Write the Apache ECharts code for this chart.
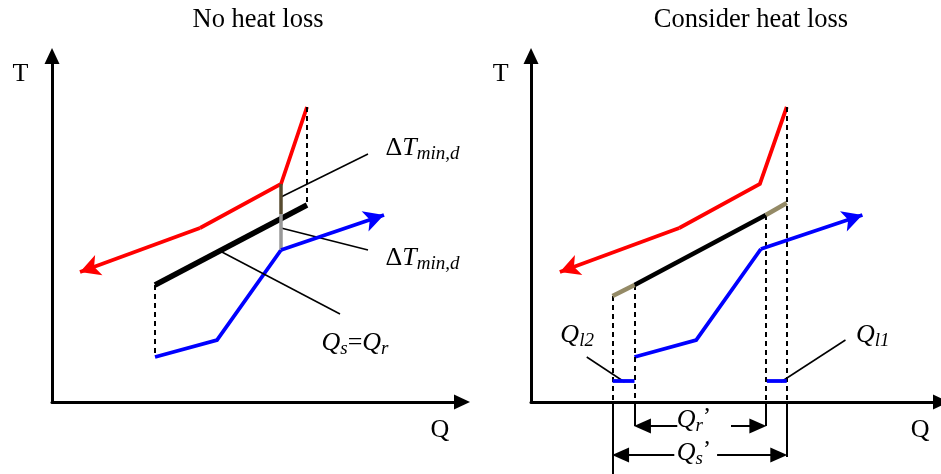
<!DOCTYPE html>
<html><head><meta charset="utf-8">
<script src="https://cdn.jsdelivr.net/npm/echarts@6/dist/echarts.min.js"></script>
<style>html,body{margin:0;padding:0;background:#fff}#c{width:941px;height:474px}</style>
</head><body><div id="c"></div>
<script>
// ---- Left panel: "No heat loss" (Q, T in diagram units) ----
const redL = [[255,295],[229,218],[148,174]];
const redArrowL = [[148,174],[28,130]];
const blueL = [[103,45],[165,62],[229,152]];
const blueArrowL = [[229,152],[332,187]];
const blackL = [[103,117],[255,197]];
const dashL = [[[103,117],[103,45]], [[255,295],[255,197]]];
const deltaDarkL = [[[229,218],[229,188]]];
const deltaGrayL = [[[229,188],[229,152]]];
const leadersL = [[[229,205],[316,248]], [[229,174],[316,152]], [[168,151],[288,88]]];

// ---- Right panel: "Consider heat loss" ----
const redR = [[257,295],[230,218],[149,174]];
const redArrowR = [[149,174],[29,130]];
const blueR = [[104,45],[166,62],[231,153]];
const blueArrowR = [[231,153],[333,187]];
const blackR = [[104,117],[236,187]];
const oliveR = [[[82,106],[104,117]], [[236,187],[257,199]]];
const lossR = [[[82,21],[104,21]], [[237,21],[257,21]]];
const dashR = [[[82,106],[82,0]], [[104,117],[104,0]], [[236,187],[236,0]], [[257,295],[257,0]]];
const extR = [[[82,0],[82,-72]], [[104,0],[104,-24]], [[236,0],[236,-24]], [[257,0],[257,-55]]];
const dimArrowsR = [[[147,-24],[112,-24]], [[201,-24],[228,-24]], [[144,-53],[90,-53]], [[187,-53],[249,-53]]];
const leadersR = [[[56,45],[94,20]], [[316,62],[251,20]]];
const yAxisR = [[[0,0],[0,346]]];

// ---- Text labels (anchor positions) ----
const titles = ['No heat loss', 'Consider heat loss'];
const labelsL = [
  {pos:[333,254], text:'{a|Δ}{i|T}{s|min,d}'},
  {pos:[333,144], text:'{a|Δ}{i|T}{s|min,d}'},
  {pos:[269,59], text:'{i|Q}{s|s}{a|=}{i|Q}{s|r}'},
  {pos:[-40,328], text:'{a|T}'},
  {pos:[378,-28], text:'{a|Q}'}
];
const labelsR = [
  {pos:[29,67], text:'{i|Q}{s|l2}'},
  {pos:[326,67], text:'{i|Q}{s|l1}'},
  {pos:[146,-18], text:'{i|Q}{s|r}{p|’}'},
  {pos:[146,-51], text:'{i|Q}{s|s}{p|’}'},
  {pos:[-39,328], text:'{a|T}'},
  {pos:[381,-28], text:'{a|Q}'}
];

const FONT = 'Liberation Serif';
const rich = {
  a:{fontFamily:FONT, fontSize:26, color:'#000', lineHeight:30},
  i:{fontFamily:FONT, fontSize:26, fontStyle:'italic', color:'#000', lineHeight:30},
  s:{fontFamily:FONT, fontSize:19, fontStyle:'italic', color:'#000', lineHeight:18, verticalAlign:'bottom'},
  p:{fontFamily:FONT, fontSize:24, color:'#000', lineHeight:18, verticalAlign:'top'}
};

function poly(g, data, color, width) {
  return {type:'line', xAxisIndex:g, yAxisIndex:g, data:data, symbol:'none', clip:false, silent:true,
    lineStyle:{color:color, width:width, cap:'butt', join:'miter'}, z:3};
}
function segs(g, list, color, width, type, symbol, symSize, z) {
  const size = symSize || [14,16];
  return {type:'line', xAxisIndex:g, yAxisIndex:g, data:[], clip:false, silent:true, z:z||2,
    markLine:{silent:true, animation:false, symbol:symbol||['none','none'], symbolSize:size,
      label:{show:false}, emphasis:{disabled:true},
      lineStyle:{color:color, width:width, type:type||'solid', cap:'butt', opacity:1},
      data:list.map(s=>[{coord:s[0]},{coord:s[1]}])}};
}
function texts(g, list) {
  return {type:'scatter', xAxisIndex:g, yAxisIndex:g, clip:false, silent:true, symbolSize:1,
    itemStyle:{color:'rgba(255,255,255,0)'},
    label:{show:true, position:'right', distance:0, color:'#000', opacity:1, rich:rich},
    data:list.map(l=>({value:l.pos, label:{formatter:l.text}})), z:5};
}
function xAx(g, max) {
  return {gridIndex:g, type:'value', min:0, max:max,
    axisLine:{show:true, onZero:true, symbol:['none','triangle'], symbolSize:[15,16], lineStyle:{color:'#000', width:3}},
    axisTick:{show:false}, axisLabel:{show:false}, splitLine:{show:false}};
}
function yAx(g, min, max, showLine) {
  return {gridIndex:g, type:'value', min:min, max:max,
    axisLine:{show:showLine, onZero:false, symbol:['none','triangle'], symbolSize:[15,16], lineStyle:{color:'#000', width:3}},
    axisTick:{show:false}, axisLabel:{show:false}, splitLine:{show:false}};
}

const chart = echarts.init(document.getElementById('c'));
chart.setOption({
  animation:false,
  backgroundColor:'#fff',
  title:[
    {text:titles[0], left:253, top:2, textAlign:'center', textStyle:{fontFamily:FONT, fontSize:26.5, fontWeight:'normal', color:'#000'}},
    {text:titles[1], left:746, top:2, textAlign:'center', textStyle:{fontFamily:FONT, fontSize:26.5, fontWeight:'normal', color:'#000'}}
  ],
  grid:[
    {left:52, top:56, width:410, height:346},
    {left:531, top:48, width:412, height:426}
  ],
  xAxis:[xAx(0,410), xAx(1,412)],
  yAxis:[yAx(0,0,346,true), yAx(1,-72,354,false)],
  series:[
    // left
    segs(0, dashL, '#000', 2, [5,4]),
    segs(0, leadersL, '#000', 1.5),
    segs(0, deltaDarkL, '#574b2f', 3.5),
    segs(0, deltaGrayL, '#999999', 3.5),
    poly(0, blackL, '#000', 5.5),
    poly(0, redL, '#ff0000', 3.8),
    segs(0, [redArrowL], '#ff0000', 3.8, 'solid', ['none','arrow'], [16,20], 3),
    poly(0, blueL, '#0000ff', 3.8),
    segs(0, [blueArrowL], '#0000ff', 3.8, 'solid', ['none','arrow'], [16,20], 3),
    texts(0, labelsL),
    // right
    segs(1, yAxisR, '#000', 3, 'solid', ['none','triangle'], [15,16], 4),
    segs(1, dashR, '#000', 2, [5,4]),
    segs(1, extR, '#000', 2),
    segs(1, dimArrowsR, '#000', 2, 'solid', ['none','triangle'], [15,17]),
    segs(1, leadersR, '#000', 1.5),
    segs(1, lossR, '#0000ff', 3.8, 'solid', null, null, 3),
    poly(1, blackR, '#000', 4.5),
    segs(1, oliveR, '#948a66', 4.5, 'solid', null, null, 3),
    poly(1, redR, '#ff0000', 3.8),
    segs(1, [redArrowR], '#ff0000', 3.8, 'solid', ['none','arrow'], [16,20], 3),
    poly(1, blueR, '#0000ff', 3.8),
    segs(1, [blueArrowR], '#0000ff', 3.8, 'solid', ['none','arrow'], [16,20], 3),
    texts(1, labelsR)
  ]
});
</script></body></html>
